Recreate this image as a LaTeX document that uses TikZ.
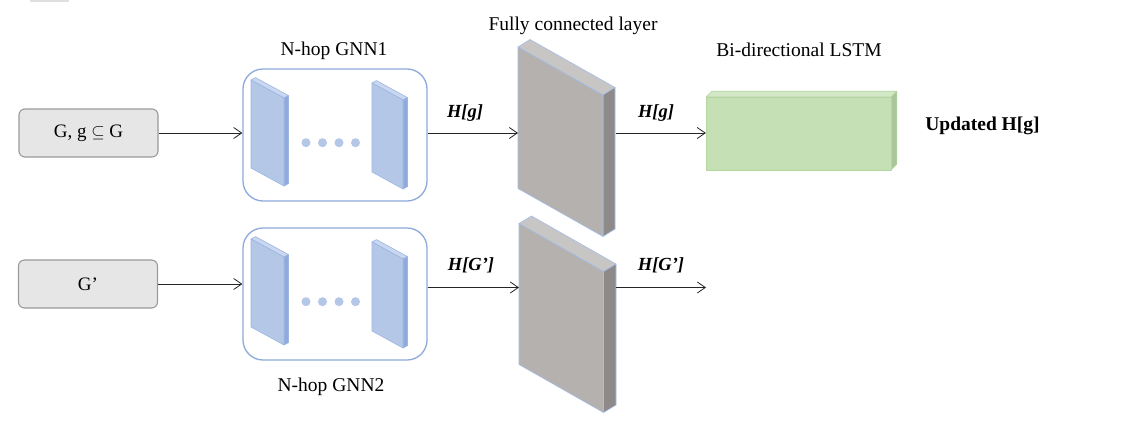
\documentclass[tikz,border=0pt]{standalone}
\usepackage{fontspec}
\setmainfont{Liberation Serif}
\usetikzlibrary{arrows.meta}
\definecolor{boxfill}{HTML}{E6E6E6}
\definecolor{boxedge}{HTML}{9A9A9A}
\definecolor{gnnedgec}{HTML}{8EAADB}
\definecolor{gnnfront}{HTML}{B4C7E7}
\definecolor{gnntop}{HTML}{C9D7F0}
\definecolor{gnnside}{HTML}{8FAADC}
\definecolor{gnnedge}{HTML}{9DB6E2}
\definecolor{fcfront}{HTML}{B5B1AF}
\definecolor{fctop}{HTML}{C8C6C5}
\definecolor{fcside}{HTML}{8E8A89}
\definecolor{fcedge}{HTML}{A4BDE8}
\definecolor{lsfront}{HTML}{C5E0B4}
\definecolor{lstop}{HTML}{D3E8C6}
\definecolor{lsside}{HTML}{A9C79A}
\definecolor{lsedge}{HTML}{B5D6A0}
\definecolor{dotc}{HTML}{B4C7E7}
% #1 x0, #2 y top-left, #3 width, #4 slope drop, #5 height, #6 dx, #7 dy, #8 colour prefix
\newcommand{\slabshape}[8]{%
  \filldraw[fill=#8top,draw=#8edge,line width=0.6pt,line join=round]
    (#1,#2) -- ({#1+#6},{#2-#7}) -- ({#1+#3+#6},{#2+#4-#7}) -- ({#1+#3},{#2+#4}) -- cycle;
  \filldraw[fill=#8side,draw=#8edge,line width=0.6pt,line join=round]
    ({#1+#3},{#2+#4}) -- ({#1+#3+#6},{#2+#4-#7}) -- ({#1+#3+#6},{#2+#4+#5-#7}) -- ({#1+#3},{#2+#4+#5}) -- cycle;
  \filldraw[fill=#8front,draw=#8edge,line width=0.6pt,line join=round]
    (#1,#2) -- ({#1+#3},{#2+#4}) -- ({#1+#3},{#2+#4+#5}) -- (#1,{#2+#5}) -- cycle;
}
\tikzset{
  inbox/.style={draw=boxedge,fill=boxfill,line width=1.1pt,rounded corners=6pt,
    minimum width=139pt,minimum height=48pt,inner sep=0pt,
    font=\fontsize{19}{22}\selectfont},
  gnnbox/.style={draw=gnnedgec,line width=1.3pt,rounded corners=20pt,
    minimum width=184pt,minimum height=132pt,inner sep=0pt},
  ghost/.style={inner sep=0pt,outer sep=0pt},
  lbl/.style={anchor=base,inner sep=0pt,font=\fontsize{19.5}{23}\selectfont},
  hlbl/.style={anchor=base,inner sep=0pt,font=\fontsize{18.5}{21}\selectfont\bfseries\itshape},
  arr/.style={line width=0.9pt,draw=black!85,-{Straight Barb[length=8pt,width=11pt,line width=0.8pt]}},
  gdot/.style={circle,fill=dotc,minimum size=9pt,inner sep=0pt}
}
\begin{document}
\begin{tikzpicture}[x=1pt,y=-1pt]
\useasboundingbox (0,0) rectangle (1138,442);
\fill[white] (0,0) rectangle (1138,442);
\fill[black!12] (30,0) rectangle (69,1.8);

% input boxes
\node[inbox] (box1) at (88.5,133) {G, g \(\subseteq\) G};
\node[inbox] (box2) at (88,284) {G’};

% GNN containers
\node[gnnbox] (gnn1) at (335,135) {};
\node[gnnbox] (gnn2) at (335,294) {};

% GNN slabs and dots
\slabshape{251}{80}{33}{18}{88}{4.5}{2.4}{gnn}
\slabshape{372}{83}{31}{17}{89}{4.5}{2.4}{gnn}
\slabshape{251}{239}{33}{18}{88}{4.5}{2.4}{gnn}
\slabshape{372}{242}{31}{17}{89}{4.5}{2.4}{gnn}
\foreach \i/\xx in {1/306,2/322.5,3/339,4/355.5}{
  \node[gdot] (da\i) at (\xx,142.7) {};
  \node[gdot] (db\i) at (\xx,301.7) {};
}

% fully connected slabs
\slabshape{518}{47}{85}{48}{141.5}{12}{7.5}{fc}
\slabshape{519}{223.5}{84.5}{48}{141}{12.5}{7.5}{fc}
\node[ghost,minimum width=97.5pt,minimum height=189pt] (fc1) at (566.75,141.5) {};
\node[ghost,minimum width=97pt,minimum height=188pt] (fc2) at (567.5,317.5) {};

% LSTM block
\slabshape{706}{97}{185}{0}{73}{5.8}{5.8}{ls}
\node[ghost,minimum width=191pt,minimum height=79pt] (lstm) at (801.4,130.5) {};

% labels
\node[lbl] (t1) at (334,55.7) {N-hop GNN1};
\node[lbl] (t2) at (331,391) {N-hop GNN2};
\node[lbl] (t3) at (573,30) {Fully connected layer};
\node[lbl] (t4) at (799,56.7) {Bi-directional LSTM};
\node[lbl,font=\fontsize{19.5}{23}\selectfont\bfseries] (t5) at (982.5,130) {Updated H[g]};

% connectors
\coordinate (row1) at (0,133);
\coordinate (row2) at (0,287.5);
\coordinate (out2) at (706,287.5);
\draw[arr] (box1.east) -- (box1.east -| gnn1.west);
\draw[arr] (box2.east) -- (box2.east -| gnn2.west);
\draw[arr] (gnn1.east |- row1) -- (fc1.west |- row1);
\draw[arr] (gnn2.east |- row2) -- (fc2.west |- row2);
\draw[arr] (fc1.east |- row1) -- (lstm.west |- row1);
\draw[arr] (fc2.east |- row2) -- (out2);

\node[hlbl] (h1) at (465,117) {H[g]};
\node[hlbl] (h2) at (656,117) {H[g]};
\node[hlbl] (h3) at (471,270) {H[G’]};
\node[hlbl] (h4) at (661,270) {H[G’]};
\end{tikzpicture}
\end{document}
